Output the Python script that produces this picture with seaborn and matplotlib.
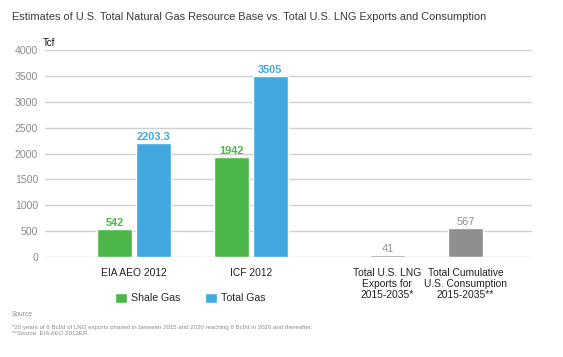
import pandas as pd
import matplotlib.pyplot as plt
import seaborn as sns
from matplotlib.patches import Patch

# Values (Tcf)
groups = ['EIA AEO 2012', 'ICF 2012']
shale_gas = [542, 1942]
total_gas = [2203.3, 3505]
extra_labels = ['Total U.S. LNG\nExports for\n2015-2035*',
                'Total Cumulative\nU.S. Consumption\n2015-2035**']
extra_values = [41, 567]

GREEN = '#4cb748'
BLUE = '#41a9df'
GREY = '#8e8e90'

# slot layout: each bar takes a slot, gaps are empty slots
group_slots = [(0, 1), (3, 4)]
extra_slots = [7, 9]

rows = []
for g, (s0, s1), sv, tv in zip(groups, group_slots, shale_gas, total_gas):
    rows.append((s0, 'Shale Gas', sv))
    rows.append((s1, 'Total Gas', tv))
for s, v in zip(extra_slots, extra_values):
    rows.append((s, 'Other', v))
df = pd.DataFrame(rows, columns=['slot', 'series', 'value'])

sns.set_style('white')
plt.rcParams['font.family'] = ['Liberation Sans', 'DejaVu Sans']

fig = plt.figure(figsize=(5.63, 3.57), dpi=100)
ax = fig.add_axes([45 / 563, 1 - 257 / 357, 487 / 563, 207 / 357])

palette = {'Shale Gas': GREEN, 'Total Gas': BLUE, 'Other': GREY}
sns.barplot(data=df, x='slot', y='value', hue='series', order=list(range(10)),
            palette=palette, dodge=False, width=35 / 39, legend=False,
            saturation=1, ax=ax, zorder=3)

ax.set_xlim(-1.78, 10.71)
ax.set_ylim(0, 4000)
ax.set_yticks(range(0, 4001, 500))
ax.yaxis.grid(True, color='#d0d0d0', linewidth=1, zorder=0)
ax.set_axisbelow(True)
for sp in ax.spines.values():
    sp.set_visible(False)
ax.tick_params(axis='y', length=0, labelsize=7.6, labelcolor='#8a8a8a', pad=5)
ax.set_xlabel('')
ax.set_ylabel('')

# category labels
centers = [0.5, 3.5] + extra_slots
ax.set_xticks(centers)
ax.set_xticklabels(groups + extra_labels, fontsize=7.4, color='#222222',
                   linespacing=1.12, va='top')
ax.tick_params(axis='x', length=0, pad=8)

# value labels
for s, series, v in rows:
    col = palette[series]
    ax.text(s, v + 50, f'{v:g}', ha='center', va='baseline', fontsize=7.9,
            color=col, fontweight='bold' if series != 'Other' else 'normal')

fig.text(12 / 563, 1 - 17 / 357,
         'Estimates of U.S. Total Natural Gas Resource Base vs. Total U.S. LNG Exports and Consumption',
         fontsize=7.9, color='#3a3a3a', va='center')
fig.text(43 / 563, 1 - 43 / 357, 'Tcf', fontsize=7, color='#111111', va='center')

handles = [Patch(facecolor=GREEN, label='Shale Gas'),
           Patch(facecolor=BLUE, label='Total Gas')]
fig.legend(handles=handles, loc='center left', bbox_to_anchor=(115 / 563, 1 - 298 / 357),
           ncol=2, frameon=False, fontsize=7.6, handlelength=1.14, handleheight=1.1,
           handletextpad=0.4, columnspacing=2.3, borderpad=0, borderaxespad=0)

fig.text(12 / 563, 1 - 315 / 357, 'Source', fontsize=4.8, color='#8a8a8a', va='center')
fig.text(12 / 563, 1 - 327 / 357,
         '*20 years of 6 Bcf/d of LNG exports phased in between 2015 and 2020 reaching 6 Bcf/d in 2020 and thereafter.',
         fontsize=4.4, color='#8a8a8a', va='center')
fig.text(12 / 563, 1 - 333.5 / 357, '**Source: EIA AEO 2013ER.',
         fontsize=4.4, color='#8a8a8a', va='center')

fig.savefig('out.png', dpi=100, facecolor='white')
plt.close(fig)
